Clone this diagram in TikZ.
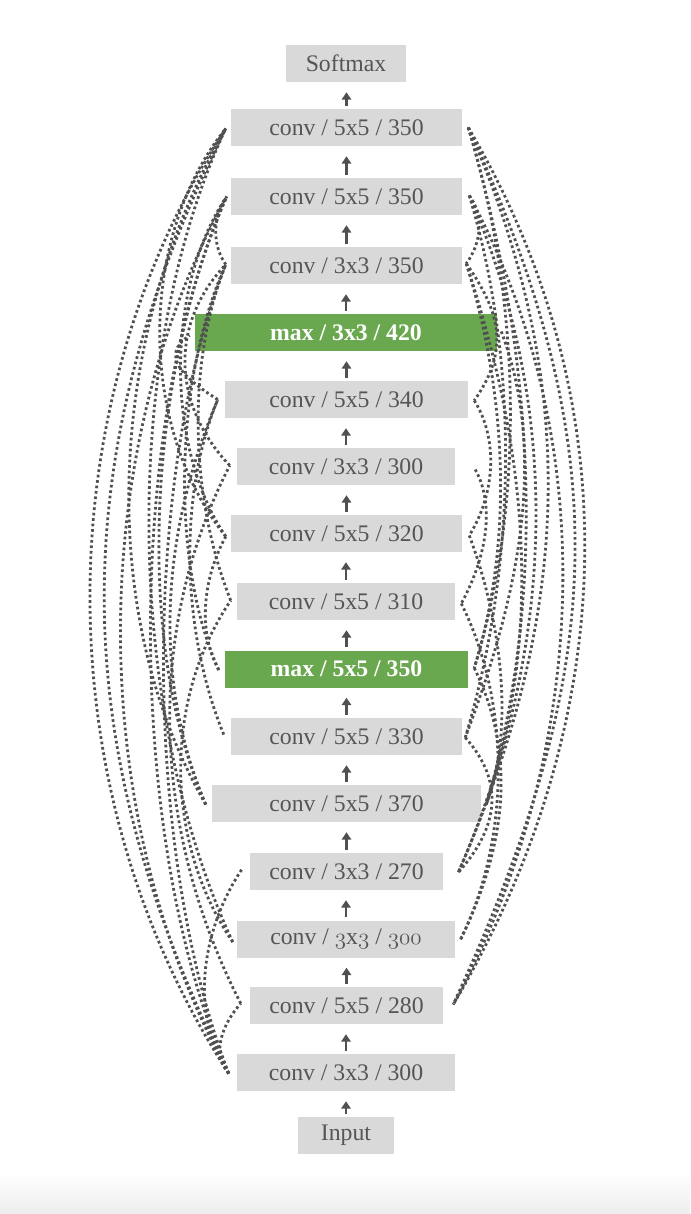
\documentclass[tikz,border=0pt]{standalone}
\usepackage{fontspec}
\setmainfont{Liberation Serif}
\usetikzlibrary{arrows.meta,calc}
\definecolor{boxgray}{HTML}{D9D9D9}
\definecolor{txtgray}{HTML}{555555}
\definecolor{boxgreen}{HTML}{6AA84F}
\definecolor{linegray}{HTML}{505050}
\newcommand\osn[1]{{\usefont{OML}{cmm}{m}{it}#1}}
\newcommand\skl[4]{\draw[skipline] (#1) .. controls +(-#3,-#4) and +(-#3,#4) .. (#2);}
\newcommand\skr[4]{\draw[skipline] (#1) .. controls +(#3,#4) and +(#3,-#4) .. (#2);}
\begin{document}
\begin{tikzpicture}[x=0.75pt,y=-0.75pt,
  box/.style={fill=boxgray, text=txtgray, minimum height=37*0.75pt, inner sep=0pt,
    font=\fontsize{17.8}{20}\selectfont},
  gbox/.style={box, fill=boxgreen, text=white, font=\fontsize{17.8}{20}\selectfont\bfseries},
  bw/.style={minimum width=#1*0.75pt},
  flow/.style={draw=linegray, line width=1.8pt, -{Triangle[length=5.5pt,width=7pt]},
    shorten >=10*0.75pt, shorten <=3*0.75pt},
  skipline/.style={draw=linegray, line width=2.1pt, dash pattern=on 2pt off 2.1pt}]
\fill[white] (0,0) rectangle (690,1214);
\shade[top color=white, bottom color=black!7] (0,1172) rectangle (690,1214);
\useasboundingbox (0,0) rectangle (690,1214);

\node[box,bw=120] (n0) at (346,63.5) {Softmax};
\node[box,bw=231] (n1) at (346.5,127.5) {conv / 5x5 / 350};
\node[box,bw=231] (n2) at (346.5,196.5) {conv / 5x5 / 350};
\node[box,bw=231] (n3) at (346.5,265.5) {conv / 3x3 / 350};
\node[gbox,bw=302] (n4) at (346,332.5) {max / 3x3 / 420};
\node[box,bw=243] (n5) at (346.5,399.5) {conv / 5x5 / 340};
\node[box,bw=218] (n6) at (346,466.5) {conv / 3x3 / 300};
\node[box,bw=231] (n7) at (346.5,533.5) {conv / 5x5 / 320};
\node[box,bw=218] (n8) at (346,601.5) {conv / 5x5 / 310};
\node[gbox,bw=243] (n9) at (346.5,669) {max / 5x5 / 350};
\node[box,bw=231] (n10) at (346.5,736.5) {conv / 5x5 / 330};
\node[box,bw=269] (n11) at (346.5,803.5) {conv / 5x5 / 370};
\node[box,bw=193] (n12) at (346.5,871.5) {conv / 3x3 / 270};
\node[box,bw=218] (n13) at (346,939) {conv / \osn{3}x\osn{3} / \osn{300}};
\node[box,bw=193] (n14) at (346.5,1005.5) {conv / 5x5 / 280};
\node[box,bw=218] (n15) at (346,1072.5) {conv / 3x3 / 300};
\node[box,bw=96] (n16) at (346,1135.5) {Input};

\foreach \a/\b in {n16/n15,n15/n14,n14/n13,n13/n12,n12/n11,n11/n10,n10/n9,n9/n8,
  n8/n7,n7/n6,n6/n5,n5/n4,n4/n3,n3/n2,n2/n1,n1/n0}
  \draw[flow] (\a.north) -- (\a.north |- \b.south);

% anchors for skip connections
\foreach \n/\dx/\dy in {n1/-5/1,n2/-4/0,n3/-5/-1,n4/-5/3,n5/-7/0,n6/-7/-1,n7/-5/3,n8/-6/-1,
  n9/-6/1,n10/-7/-2,n11/-6/1,n12/-8/-2,n13/-4/3,n14/-9/-2,n15/-8/1}
  \coordinate (\n l) at ($(\n.west)+(\dx,\dy)$);
\foreach \n/\dx/\dy in {n1/6/0,n2/7/-1,n3/4/-2,n4/4/-1,n5/6/1,n6/20/3,n7/7/2,n8/6/2,
  n9/6/-1,n10/3/1,n11/5/1,n12/15/1,n13/5/1,n14/10/-1,n15/5/0}
  \coordinate (\n r) at ($(\n.east)+(\dx,\dy)$);

% left side
\skl{n15l}{n1l}{183}{280}
\skl{n15l}{n1l}{164}{330}
\skl{n15l}{n2l}{143}{260}
\skl{n11l}{n1l}{115}{200}
\skl{n15l}{n2l}{103}{230}
\skl{n13l}{n1l}{107}{230}
\skl{n15l}{n3l}{85}{220}
\skl{n11l}{n2l}{75}{170}
\skl{n7l}{n1l}{88}{110}
\skl{n7l}{n2l}{61}{90}
\skl{n9l}{n3l}{50}{110}
\skl{n6l}{n3l}{57}{60}
\skl{n5l}{n4l}{32}{20}
\skl{n10l}{n5l}{41}{100}
\skl{n13l}{n8l}{68}{100}
\skl{n8l}{n3l}{40}{100}
\skl{n15l}{n12l}{40}{60}
\skl{n15l}{n14l}{18}{20}
\skl{n9l}{n7l}{22}{40}
\skl{n3l}{n2l}{14}{20}
\skl{n11l}{n5l}{55}{130}
\skl{n14l}{n6l}{87}{170}

% right side
\skr{n1r}{n14r}{165}{280}
\skr{n1r}{n14r}{152}{330}
\skr{n2r}{n14r}{135}{250}
\skr{n1r}{n12r}{113}{260}
\skr{n2r}{n12r}{96}{220}
\skr{n1r}{n11r}{64}{220}
\skr{n3r}{n11r}{59}{180}
\skr{n1r}{n9r}{52}{170}
\skr{n2r}{n10r}{51}{170}
\skr{n3r}{n9r}{40}{130}
\skr{n4r}{n10r}{49}{130}
\skr{n5r}{n7r}{25}{40}
\skr{n6r}{n8r}{22}{40}
\skr{n10r}{n12r}{40}{45}
\skr{n9r}{n13r}{44}{90}
\skr{n3r}{n5r}{35}{50}
\skr{n7r}{n11r}{30}{80}
\skr{n2r}{n3r}{15}{20}
\skr{n8r}{n13r}{50}{100}
\end{tikzpicture}
\end{document}
